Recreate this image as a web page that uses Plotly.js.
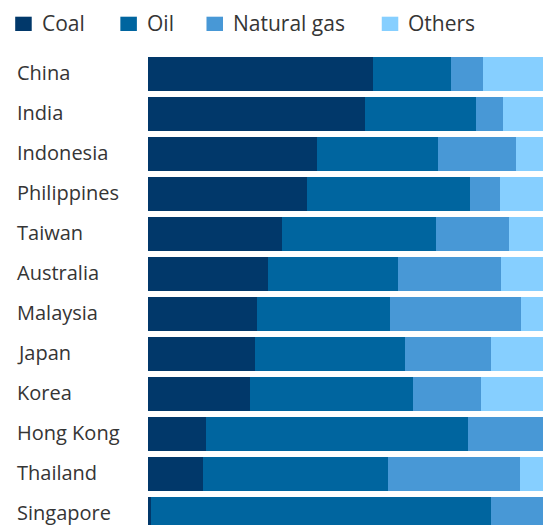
<!DOCTYPE html>
<html>
<head>
<meta charset="utf-8">
<script src="https://cdn.plot.ly/plotly-3.0.1.min.js"></script>
<style>
  html, body { margin: 0; padding: 0; background: #fff; }
  #chart { width: 546px; height: 525px; }
</style>
</head>
<body>
<div id="chart"></div>
<script>
// Share of power generation by fuel (%), by economy
const countries = ["China", "India", "Indonesia", "Philippines", "Taiwan", "Australia",
                   "Malaysia", "Japan", "Korea", "Hong Kong", "Thailand", "Singapore"];
const coal   = [57.0, 54.9, 42.7, 40.2, 33.9, 30.4, 27.5, 27.1, 25.8, 14.8, 13.9, 0.8];
const oil    = [19.8, 28.2, 30.8, 41.2, 39.0, 32.9, 33.7, 37.9, 41.3, 66.3, 46.9, 86.1];
const gas    = [ 8.0,  6.8, 19.7,  7.6, 18.6, 26.1, 33.3, 21.9, 17.3, 18.9, 33.3, 13.1];
const others = [15.2, 10.1,  6.8, 11.0,  8.5, 10.6,  5.5, 13.1, 15.6,  0.0,  5.9,  0.0];

const seriesNames = ["Coal", "Oil", "Natural gas", "Others"];
const seriesColors = ["#01386a", "#00659f", "#4898d6", "#86cfff"];
const seriesValues = [coal, oil, gas, others];

const W = 546, H = 525;
const M = { l: 148.3, r: 3.3, t: 54, b: 0 };
const FONT = "'Open Sans', sans-serif";
const TEXT_COLOR = "#353535";

const traces = seriesValues.map((vals, i) => ({
  type: "bar",
  orientation: "h",
  name: seriesNames[i],
  y: countries,
  x: vals,
  marker: { color: seriesColors[i], line: { width: 0 } },
  hoverinfo: "name+x"
}));

const plotW = W - M.l - M.r, plotH = H - M.t - M.b;
const px2x = px => (px - M.l) / plotW;
const px2y = py => (H - M.b - py) / plotH;

// Country labels, left-aligned in the margin
const annotations = countries.map(c => ({
  xref: "paper", yref: "y",
  x: px2x(16), xanchor: "left",
  y: c, yanchor: "middle", yshift: 2,
  text: c, showarrow: false,
  font: { family: FONT, size: 20, color: TEXT_COLOR }
}));

// Legend drawn along the top
const legendSquareX = [15.7, 120.7, 206.7, 381.7];
const legendTextX = [40.5, 145.5, 231.5, 406];

const shapes = [];
seriesNames.forEach((n, i) => {
  shapes.push({
    type: "rect", xref: "paper", yref: "paper",
    x0: px2x(legendSquareX[i]), x1: px2x(legendSquareX[i] + 16.5),
    y0: px2y(31), y1: px2y(16.7),
    fillcolor: seriesColors[i], line: { width: 0 }
  });
  annotations.push({
    xref: "paper", yref: "paper",
    x: px2x(legendTextX[i]), xanchor: "left",
    y: px2y(23.5), yanchor: "middle",
    text: n, showarrow: false,
    font: { family: FONT, size: 21, color: TEXT_COLOR }
  });
});

const layout = {
  width: W, height: H,
  margin: M,
  barmode: "stack",
  bargap: 0.167,
  showlegend: false,
  paper_bgcolor: "#ffffff",
  plot_bgcolor: "#ffffff",
  xaxis: { range: [0, 100], visible: false, fixedrange: true },
  yaxis: {
    type: "category",
    range: [11.275, -0.5],
    showticklabels: false, showgrid: false, zeroline: false, showline: false,
    ticks: "", fixedrange: true
  },
  annotations: annotations,
  shapes: shapes
};

Plotly.newPlot("chart", traces, layout, { displayModeBar: false, staticPlot: true });
</script>
</body>
</html>
